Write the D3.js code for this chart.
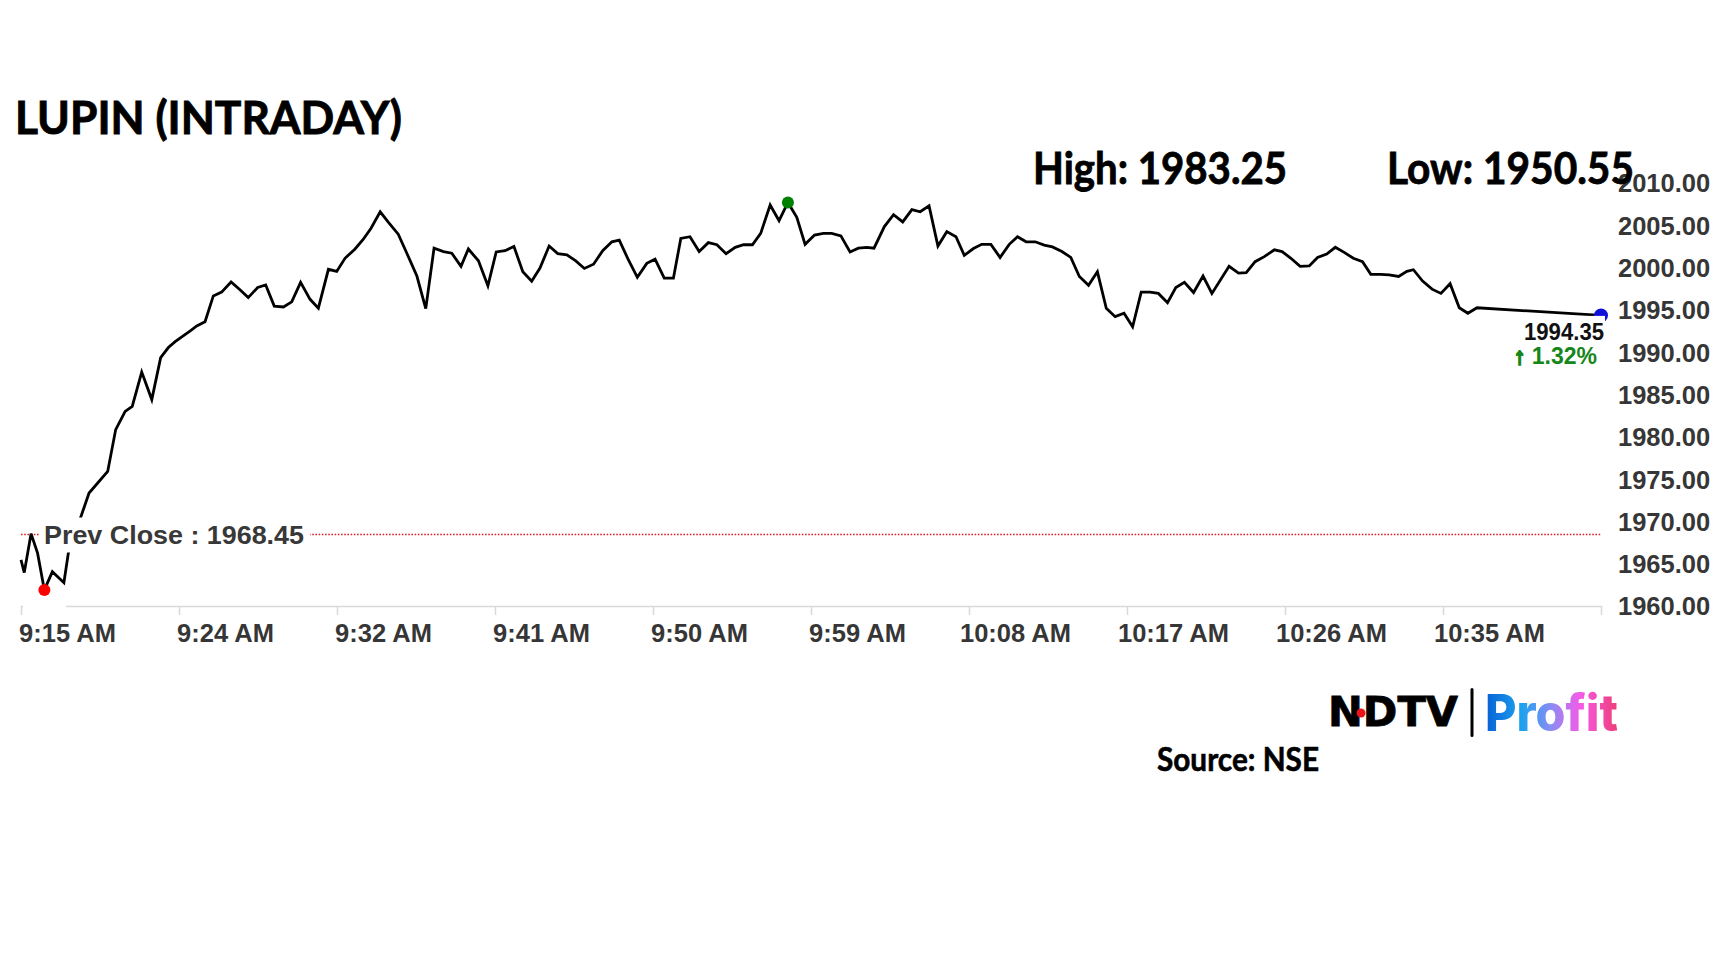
<!DOCTYPE html>
<html>
<head>
<meta charset="utf-8">
<script src="https://cdn.jsdelivr.net/npm/d3@7"></script>
<style>
  html, body { margin: 0; padding: 0; background: #ffffff; }
  svg { display: block; }
</style>
</head>
<body>
<svg id="chart" width="1728" height="972"></svg>
<script>
// ---------------- DATA ----------------
const title = "LUPIN (INTRADAY)";
const highText = "High: 1983.25";
const lowText = "Low: 1950.55";
const sourceText = "Source: NSE";
const prevClose = 1968.45;
const lastPrice = 1994.35;
const changePct = "1.32%";

const sessionStart = "09:15:00";
const sessionEnd = "10:44:00";

const times = ["09:15:00","09:15:11","09:15:34","09:15:56","09:16:19","09:16:46","09:17:25","09:17:40","09:18:50","09:19:17","09:19:53","09:20:20","09:20:52","09:21:16","09:21:48","09:22:22","09:22:52","09:23:18","09:23:41","09:24:07","09:24:31","09:24:54","09:25:22","09:25:50","09:26:18","09:26:50","09:27:21","09:27:48","09:28:20","09:28:47","09:29:16","09:29:47","09:30:15","09:30:45","09:31:17","09:31:45","09:32:19","09:32:47","09:33:15","09:33:49","09:34:17","09:34:43","09:35:14","09:35:42","09:36:15","09:36:44","09:37:18","09:37:48","09:38:16","09:38:48","09:39:16","09:39:47","09:40:12","09:40:46","09:41:18","09:41:46","09:42:16","09:42:46","09:43:16","09:43:46","09:44:14","09:44:45","09:45:14","09:45:45","09:46:15","09:46:44","09:47:15","09:47:46","09:48:17","09:48:42","09:49:13","09:49:43","09:50:15","09:50:43","09:51:14","09:51:45","09:52:10","09:52:41","09:53:12","09:53:43","09:54:12","09:54:43","09:55:14","09:55:42","09:56:12","09:56:40","09:57:12","09:57:42","09:58:12","09:58:42","09:59:10","09:59:42","10:00:12","10:00:40","10:01:11","10:01:42","10:02:10","10:02:39","10:03:03","10:03:38","10:04:09","10:04:40","10:05:11","10:05:39","10:06:09","10:06:39","10:07:09","10:07:40","10:08:08","10:08:39","10:09:07","10:09:38","10:10:09","10:10:40","10:11:08","10:11:37","10:12:08","10:12:38","10:13:06","10:13:38","10:14:08","10:14:37","10:15:08","10:15:38","10:16:08","10:16:38","10:17:08","10:17:37","10:18:06","10:18:36","10:19:04","10:19:35","10:20:03","10:20:32","10:21:03","10:21:35","10:22:05","10:23:03","10:23:35","10:24:01","10:24:31","10:25:02","10:25:36","10:26:02","10:26:32","10:27:03","10:27:34","10:28:02","10:28:33","10:29:02","10:29:32","10:30:03","10:30:34","10:31:02","10:31:34","10:32:04","10:32:36","10:33:04","10:33:26","10:33:57","10:34:29","10:34:59","10:35:30","10:36:01","10:36:30","10:37:01","10:44:00"];

const prices = [1965.45,1963.95,1968.55,1966.25,1961.90,1964.05,1962.75,1966.25,1973.35,1974.45,1975.90,1980.85,1983.00,1983.60,1987.65,1984.40,1989.35,1990.55,1991.25,1991.90,1992.50,1993.10,1993.60,1996.65,1997.10,1998.30,1997.35,1996.45,1997.65,1997.95,1995.45,1995.35,1995.95,1998.25,1996.25,1995.20,1999.80,1999.55,2001.10,2002.20,2003.35,2004.65,2006.60,2005.35,2003.95,2001.70,1999.00,1995.15,2002.30,2001.90,2001.70,2000.15,2002.20,2000.80,1997.85,2001.85,2002.00,2002.50,1999.50,1998.40,1999.95,2002.55,2001.65,2001.50,2000.80,1999.90,2000.40,2002.00,2003.05,2003.25,2000.90,1998.85,2000.50,2001.00,1998.75,1998.75,2003.45,2003.65,2001.90,2002.95,2002.70,2001.65,2002.40,2002.70,2002.70,2004.05,2007.40,2005.55,2007.70,2005.95,2002.75,2003.85,2004.05,2004.05,2003.75,2001.85,2002.30,2002.40,2002.30,2004.85,2006.25,2005.40,2006.85,2006.60,2007.30,2002.55,2004.25,2003.65,2001.45,2002.25,2002.75,2002.75,2001.20,2002.75,2003.65,2003.05,2003.05,2002.65,2002.45,2001.90,2001.20,1998.95,1997.90,1999.50,1995.20,1994.20,1994.60,1993.00,1997.10,1997.10,1996.95,1995.85,1997.65,1998.25,1997.05,1999.00,1996.95,2000.15,1999.35,1999.40,2000.70,2001.30,2002.10,2001.90,2001.10,2000.15,2000.20,2001.20,2001.60,2002.40,2001.80,2001.10,2000.70,1999.20,1999.20,1999.15,1998.95,1999.55,1999.75,1998.40,1997.45,1996.95,1998.10,1995.25,1994.60,1995.25,1994.35];

const xTickTimes = ["09:15:00","09:23:54","09:32:48","09:41:42","09:50:36","09:59:30","10:08:24","10:17:18","10:26:12","10:35:06","10:44:00"];
const xTickLabels = ["9:15 AM","9:24 AM","9:32 AM","9:41 AM","9:50 AM","9:59 AM","10:08 AM","10:17 AM","10:26 AM","10:35 AM",""];
const yTicks = [1960,1965,1970,1975,1980,1985,1990,1995,2000,2005,2010];

// ---------------- CHART ----------------
const svg = d3.select("#chart");
const parse = d3.timeParse("%H:%M:%S");
const data = times.map((t, i) => ({ t: parse(t), v: prices[i] }));

const plot = { left: 21, right: 1601, top: 183, bottom: 606 };
const x = d3.scaleTime().domain([parse(sessionStart), parse(sessionEnd)]).range([plot.left, plot.right]);
const y = d3.scaleLinear().domain([1960, 2010]).range([plot.bottom, plot.top]);

const axisFont = "'Liberation Sans', Arial, sans-serif";
const headFont = "Lato, 'Open Sans', sans-serif";

// x axis
const gx = svg.append("g").attr("transform", `translate(0,${plot.bottom})`)
  .call(d3.axisBottom(x).tickValues(xTickTimes.map(parse))
    .tickFormat((d, i) => xTickLabels[i]).tickSize(9).tickSizeOuter(0));
gx.select(".domain").attr("stroke", "#d9d9d9").attr("stroke-width", 1.5);
gx.selectAll(".tick line").attr("stroke", "#d9d9d9").attr("stroke-width", 1.5);
gx.selectAll(".tick text")
  .attr("text-anchor", "middle").attr("x", 46).attr("y", 36).attr("dy", 0)
  .style("font-family", axisFont).style("font-weight", "bold").style("font-size", "25.5px")
  .attr("fill", "#363636");

// gap in axis baseline near the open (white label box behind low marker)
svg.append("rect").attr("x", 23).attr("y", plot.bottom - 3).attr("width", 43).attr("height", 5).attr("fill", "#fff");

// y axis
const gy = svg.append("g").attr("transform", `translate(${plot.right},0)`)
  .call(d3.axisRight(y).tickValues(yTicks).tickFormat(d3.format(".2f")).tickSize(0));
gy.select(".domain").remove();
gy.selectAll(".tick text")
  .attr("x", 17).attr("dy", "0.35em")
  .style("font-family", axisFont).style("font-weight", "bold").style("font-size", "25.5px")
  .attr("fill", "#363636");

// prev close dotted line
svg.append("line")
  .attr("x1", plot.left).attr("x2", plot.right)
  .attr("y1", y(prevClose)).attr("y2", y(prevClose))
  .attr("stroke", "#e02020").attr("stroke-width", 1.3).attr("stroke-dasharray", "1.6,1.6");

// price line
const line = d3.line().x(d => x(d.t)).y(d => y(d.v));
svg.append("path").datum(data).attr("d", line)
  .attr("fill", "none").attr("stroke", "#000").attr("stroke-width", 2.8).attr("stroke-linejoin", "miter");

// prev close label
const pcy = y(prevClose);
svg.append("rect").attr("x", 40).attr("y", pcy - 17).attr("width", 270).attr("height", 35).attr("fill", "#fff");
svg.append("text").attr("x", 44).attr("y", pcy + 9.5)
  .attr("textLength", 260).attr("lengthAdjust", "spacingAndGlyphs")
  .style("font-family", axisFont).style("font-weight", "bold").style("font-size", "26.5px")
  .attr("fill", "#383838").text("Prev Close : " + d3.format(".2f")(prevClose));

// min & max markers
const iMin = d3.minIndex(data, d => d.v), iMax = d3.maxIndex(data, d => d.v);
svg.append("circle").attr("cx", x(data[iMin].t)).attr("cy", y(data[iMin].v)).attr("r", 6).attr("fill", "#ff0000");
svg.append("circle").attr("cx", x(data[iMax].t)).attr("cy", y(data[iMax].v)).attr("r", 6).attr("fill", "#008000");

// last price marker & label
const last = data[data.length - 1];
svg.append("circle").attr("cx", x(last.t)).attr("cy", y(last.v)).attr("r", 7).attr("fill", "#1010d8");
svg.append("rect").attr("x", 1508).attr("y", y(last.v) + 0.5).attr("width", 97).attr("height", 52).attr("fill", "#fff");
svg.append("text").attr("x", 1604).attr("y", y(last.v) + 25).attr("text-anchor", "end")
  .attr("textLength", 80).attr("lengthAdjust", "spacingAndGlyphs")
  .style("font-family", axisFont).style("font-weight", "bold").style("font-size", "23.5px")
  .attr("fill", "#111").text(d3.format(".2f")(lastPrice));
const chg = svg.append("text").attr("x", 1597).attr("y", y(last.v) + 49).attr("text-anchor", "end")
  .style("font-family", axisFont).style("font-weight", "bold").style("font-size", "23px")
  .attr("fill", "#15861a");
chg.append("tspan").attr("stroke", "#15861a").attr("stroke-width", 2).text("↑");
chg.append("tspan").text(" " + changePct);

// title, high/low
svg.append("text").attr("x", 15).attr("y", 134).attr("textLength", 387).attr("lengthAdjust", "spacingAndGlyphs")
  .style("font-family", headFont).style("font-weight", "bold").style("font-size", "46px")
  .attr("fill", "#000").attr("stroke", "#000").attr("stroke-width", 0.9).text(title);
svg.append("text").attr("x", 1033).attr("y", 184).attr("textLength", 254).attr("lengthAdjust", "spacingAndGlyphs")
  .style("font-family", headFont).style("font-weight", "bold").style("font-size", "43px")
  .attr("fill", "#000").attr("stroke", "#000").attr("stroke-width", 0.8).text(highText);
svg.append("text").attr("x", 1387).attr("y", 184).attr("textLength", 247).attr("lengthAdjust", "spacingAndGlyphs")
  .style("font-family", headFont).style("font-weight", "bold").style("font-size", "43px")
  .attr("fill", "#000").attr("stroke", "#000").attr("stroke-width", 0.8).text(lowText);

// logo
const defs = svg.append("defs");
const grad = defs.append("linearGradient").attr("id", "profitGrad").attr("x1", "0%").attr("x2", "100%");
[["0%", "#0761d6"], ["28%", "#1ea2ee"], ["50%", "#8c8cf4"], ["72%", "#f65ae6"], ["100%", "#ee3d78"]]
  .forEach(([o, c]) => grad.append("stop").attr("offset", o).attr("stop-color", c));
svg.append("text").attr("x", 1328).attr("y", 726).attr("textLength", 130).attr("lengthAdjust", "spacingAndGlyphs")
  .style("font-family", "'DejaVu Sans', sans-serif").style("font-weight", "bold").style("font-size", "41px")
  .attr("fill", "#000").attr("stroke", "#000").attr("stroke-width", 0.8).text("NDTV");
svg.append("circle").attr("cx", 1361).attr("cy", 713).attr("r", 4.5).attr("fill", "#e8141c");
svg.append("rect").attr("x", 1470.5).attr("y", 688).attr("width", 3).attr("height", 49).attr("rx", 1.5).attr("fill", "#000");
svg.append("text").attr("x", 1485).attr("y", 731).attr("textLength", 133).attr("lengthAdjust", "spacingAndGlyphs")
  .style("font-family", "Inter, 'Open Sans', sans-serif").style("font-weight", "800").style("font-size", "51px")
  .attr("fill", "url(#profitGrad)").text("Profit");

// source
svg.append("text").attr("x", 1157).attr("y", 771).attr("textLength", 162).attr("lengthAdjust", "spacingAndGlyphs")
  .style("font-family", headFont).style("font-weight", "bold").style("font-size", "33px")
  .attr("fill", "#000").attr("stroke", "#000").attr("stroke-width", 0.6).text(sourceText);
</script>
</body>
</html>
